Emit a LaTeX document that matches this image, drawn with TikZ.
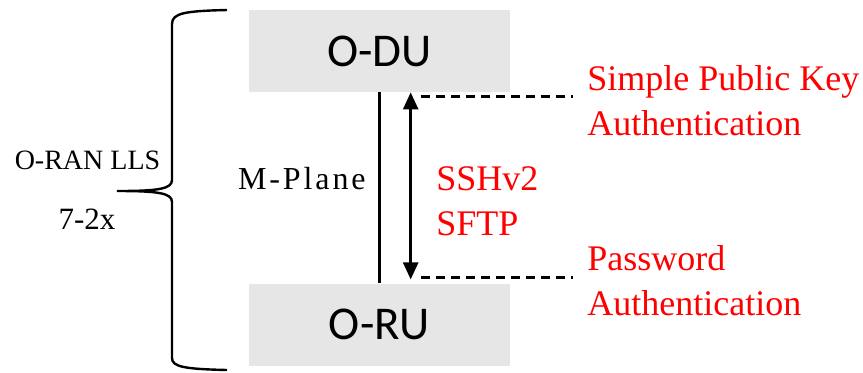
\documentclass[tikz,border=0pt]{standalone}
\usepackage{fontspec}
\setmainfont{Liberation Serif}
\newfontfamily\boxfont{Carlito}
\usetikzlibrary{arrows.meta, positioning}
\definecolor{boxGray}{RGB}{230, 230, 230}
\definecolor{noteRed}{RGB}{255, 0, 0}
\tikzset{
    unitBox/.style={
        rectangle, fill=boxGray,
        minimum width=130.5pt, minimum height=41pt,
        font=\boxfont\fontsize{23.5}{28}\selectfont
    },
    noteText/.style={
        align=left, text=noteRed, inner sep=0pt,
        font=\fontsize{18}{22.5}\selectfont
    },
    splitLabel/.style={
        inner sep=0pt, font=\fontsize{14}{17}\selectfont
    },
    planeLine/.style={line width=1.2pt},
    sshArrow/.style={
        {Triangle[length=8.5pt, width=7.5pt]}-{Triangle[length=8.5pt, width=7.5pt]},
        line width=1.3pt
    },
    guideLine/.style={
        line width=1.1pt, dash pattern=on 4.5pt off 3pt
    }
}

\begin{document}
\begin{tikzpicture}[x=0.5pt, y=-0.5pt]

	\useasboundingbox (0,0) rectangle (863,372);

	% =========================================================
	% Units and M-Plane link
	% =========================================================

	\node [unitBox] (odu) at (379.5,51) {O-DU};
	\node [unitBox, below=95.5pt of odu] (oru) {O-RU};

	\draw [planeLine] (odu.south) --
		node [left=3pt, yshift=4.5pt, font=\fontsize{16}{19}\selectfont\addfontfeature{LetterSpace=9}] (mplane) {M-Plane}
		(oru.north);

	\draw [sshArrow] ([xshift=15.6pt]odu.south) -- ([xshift=15.6pt, yshift=2pt]oru.north);

	% the base anchor of a two-line node sits on its last line
	\node [noteText, anchor=base west] (proto) at (436,235) {SSHv2\\SFTP};

	% =========================================================
	% Authentication methods
	% =========================================================

	\node [noteText, anchor=base west] (keyNote) at (587,135) {Simple Public Key\\Authentication};
	\node [noteText, anchor=base west] (pwdNote) at (587,315) {Password\\Authentication};

	\coordinate (tipTop) at ([xshift=20.75pt, yshift=-2pt]odu.south);
	\coordinate (tipBot) at ([xshift=20.75pt, yshift=3pt]oru.north);

	\draw [guideLine, shorten >=7pt] (tipTop) -- (tipTop -| keyNote.west);
	\draw [guideLine, shorten >=7pt] (tipBot) -- (tipBot -| pwdNote.west);

	% =========================================================
	% Split label and brace
	% =========================================================

	\draw [line width=1.2pt]
		(227,10) .. controls (185,11) and (172,13) .. (172,24)
		-- (172,180) .. controls (172,189) and (158,191) .. (117,191)
		.. controls (158,191) and (172,193) .. (172,202)
		-- (172,358) .. controls (172,367) and (185,369) .. (227,370);

	\node [splitLabel, anchor=base] (lls) at (87.5,169) {O-RAN LLS};
	\node [splitLabel, anchor=base, font=\fontsize{15.5}{18}\selectfont] (option) at (87,229) {7-2x};

\end{tikzpicture}
\end{document}
